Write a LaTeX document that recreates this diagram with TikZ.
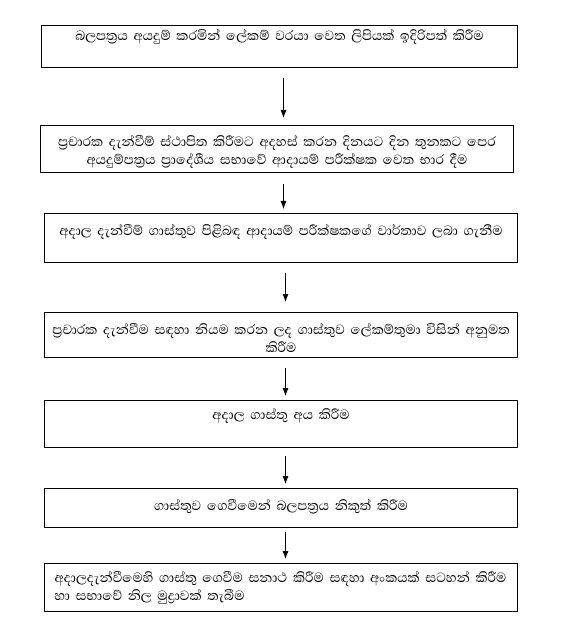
\documentclass[tikz,border=0pt]{standalone}
\usepackage{fontspec}
\newfontfamily\sinhala[Script=Sinhala]{Abhaya Libre}
\usetikzlibrary{arrows.meta,calc}

\tikzset{
  stepbox/.style={draw, line width=1pt, anchor=north west, inner xsep=4pt, inner ysep=0pt,
    align=center, font=\sinhala\fontsize{17}{18}\selectfont},
  flow/.style={line width=0.8pt, -{Latex[length=8pt,width=6pt]}}
}

\begin{document}
\begin{tikzpicture}[x=1pt,y=1pt]
    \useasboundingbox (0,0) rectangle (564,-628);
    % boxes, top left corners
    \node[stepbox, text width=468pt, text height=15pt, text depth=27pt] (b1) at (41,-25)
        {බලපත්‍රය අයදුම් කරමින් ලේකම් වරයා වෙත ලිපියක් ඉදිරිපත් කිරීම};
    \node[stepbox, text width=465pt, text height=21pt, text depth=26pt] (b2) at (40,-125)
        {ප්‍රචාරක දැන්වීම් ස්ථාපිත කිරීමට  අදහස් කරන දිනයට දින තුනකට පෙර\\
         අයදුම්පත්‍රය ප්‍රාදේශීය සභාවේ ආදායම් පරීක්ෂක වෙත භාර දීම};
    \node[stepbox, text width=465pt, text height=22pt, text depth=27pt] (b3) at (44,-213)
        {අදාල දැන්වීම් ගාස්තුව පිළිබඳ ආදායම් පරීක්ෂකගේ වාර්තාව ලබා ගැනීම};
    \node[stepbox, text width=465pt, text height=22pt, text depth=23pt] (b4) at (44,-312)
        {ප්‍රචාරක දැන්වීම සඳහා නියම කරන ලද ගාස්තුව ලේකම්තුමා විසින් අනුමත\\ කිරීම};
    \node[stepbox, text width=465pt, text height=19pt, text depth=28pt] (b5) at (44,-400)
        {අදාල ගාස්තු අය  කිරීම};
    \node[stepbox, text width=465pt, text height=22pt, text depth=17pt] (b6) at (44,-488)
        {ගාස්තුව ගෙවීමෙන් බලපත්‍රය නිකුත් කිරීම};
    \node[stepbox, align=left, inner xsep=10pt, text width=453pt, text height=19pt, text depth=29pt] (b7) at (44,-563)
        {අදාලදැන්වීමෙහි ගාස්තු ගෙවීම සනාථ කිරීම සඳහා අංකයක් සටහන් කිරීම\\
         හා සභාවේ නිල මුද්‍රාවක් තැබීම};
    % arrows
    \draw[flow] ([xshift=4pt,yshift=-10pt]b1.south) coordinate (s1) -- ([yshift=7pt]b2.north -| s1);
    \draw[flow] ([xshift=6.5pt,yshift=-11pt]b2.south) coordinate (s2) -- ([yshift=4pt]b3.north -| s2);
    \draw[flow] ([xshift=4.5pt,yshift=-10pt]b3.south) coordinate (s3) -- ([yshift=10pt]b4.north -| s3);
    \draw[flow] ([xshift=4.5pt,yshift=-10pt]b4.south) coordinate (s4) -- ([yshift=4pt]b5.north -| s4);
    \draw[flow] ([xshift=4.5pt,yshift=-8pt]b5.south) coordinate (s5) -- ([yshift=4pt]b6.north -| s5);
    \draw[flow] ([xshift=4.5pt,yshift=-4pt]b6.south) coordinate (s6) -- ([yshift=4pt]b7.north -| s6);
\end{tikzpicture}
\end{document}
